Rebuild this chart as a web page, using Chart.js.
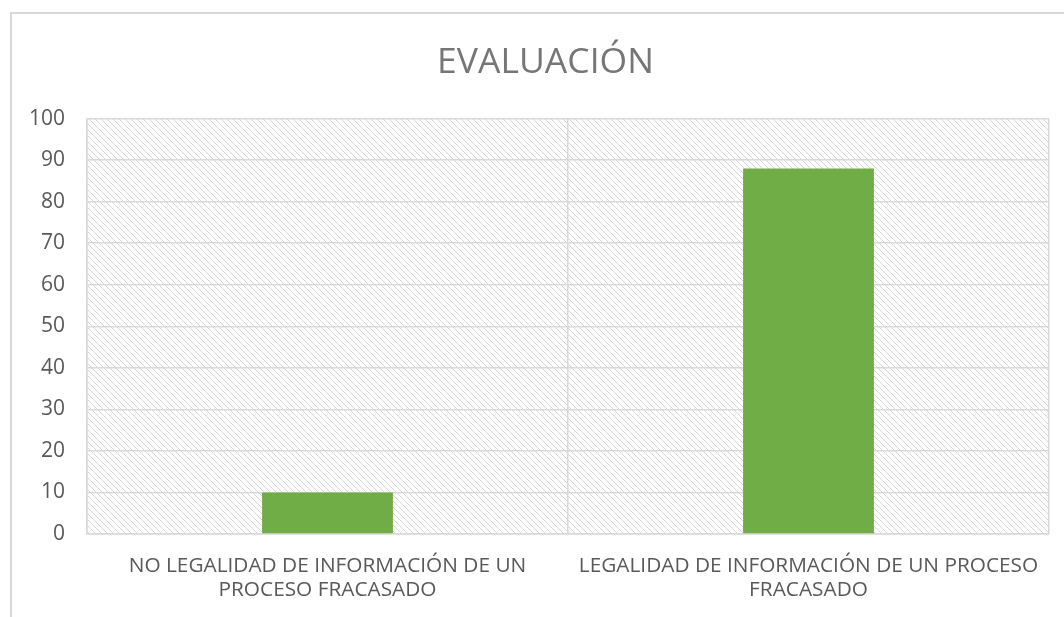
<!DOCTYPE html>
<html>
<head>
<meta charset="utf-8">
<script src="https://cdn.jsdelivr.net/npm/chart.js@4/dist/chart.umd.min.js"></script>
<style>
  html, body { margin: 0; padding: 0; background: #fff; overflow: hidden; }
  #frame {
    position: absolute; left: 10px; top: 12px;
    width: 1200px; height: 800px;
    border: 2px solid #d9d9d9; box-sizing: border-box;
  }
  #wrap { position: absolute; left: 0; top: 0; width: 1064px; height: 617px; }
</style>
</head>
<body>
<div id="frame"></div>
<div id="wrap"><canvas id="evalChart" width="1064" height="617"></canvas></div>
<script>
// chart data
const categories = [
    ['NO LEGALIDAD DE INFORMACIÓN DE UN', 'PROCESO FRACASADO'],
    ['LEGALIDAD DE INFORMACIÓN DE UN PROCESO', 'FRACASADO']
];
const values = [10, 88];
const yTicks = [0, 10, 20, 30, 40, 50, 60, 70, 80, 90, 100];

// diagonal hatch used behind the plot area
function makeHatch() {
    const c = document.createElement('canvas');
    c.width = 6; c.height = 6;
    const g = c.getContext('2d');
    g.strokeStyle = '#d6d6d6';
    g.lineWidth = 1;
    g.beginPath();
    g.moveTo(-1, -1); g.lineTo(7, 7);
    g.moveTo(-1, 5); g.lineTo(1, 7);
    g.moveTo(5, -1); g.lineTo(7, 1);
    g.stroke();
    return g.createPattern(c, 'repeat');
}

const hatchPlugin = {
    id: 'hatch',
    afterLayout(chart) {
        // let the y labels use the space left of the axis box (title stays centred on the frame)
        chart.scales.y.left = 12;
    },
    beforeDraw(chart) {
        const { ctx, chartArea } = chart;
        ctx.save();
        ctx.fillStyle = makeHatch();
        ctx.fillRect(chartArea.left, chartArea.top,
            chartArea.right - chartArea.left, chartArea.bottom - chartArea.top);
        ctx.restore();
    }
};

const ctx = document.getElementById('evalChart').getContext('2d');
new Chart(ctx, {
    type: 'bar',
    data: {
        labels: categories,
        datasets: [{
            data: values,
            backgroundColor: '#70ad47',
            barPercentage: 0.272,
            categoryPercentage: 1
        }]
    },
    options: {
        responsive: false,
        animation: false,
        layout: { padding: { left: 42, right: 15, top: 14, bottom: 0 } },
        plugins: {
            legend: { display: false },
            tooltip: { enabled: false },
            title: {
                display: true,
                text: 'EVALUACIÓN',
                color: '#767676',
                font: { family: 'Open Sans', size: 35.5, weight: 'normal', lineHeight: 1.2 },
                padding: { top: 28, bottom: 34 }
            }
        },
        scales: {
            y: {
                min: 0, max: 100,
                afterBuildTicks(scale) { scale.ticks = yTicks.map(v => ({ value: v })); },
                grid: { color: '#d9d9d9', lineWidth: 1.5, drawTicks: false },
                border: { display: true, color: '#d9d9d9', width: 1.5 },
                ticks: {
                    color: '#595959', padding: 22,
                    font: { family: 'Open Sans', size: 21 }
                },
                afterFit(scale) { scale.width = 45; }
            },
            x: {
                grid: { color: '#d9d9d9', lineWidth: 1.5, drawTicks: false, offset: true },
                border: { display: true, color: '#d9d9d9', width: 1.5 },
                ticks: {
                    color: '#595959', padding: 20, maxRotation: 0,
                    font: { family: 'Open Sans', size: 20.8, lineHeight: 1.15 }
                },
                afterFit(scale) { scale.height = 83; }
            }
        }
    },
    plugins: [hatchPlugin]
});
</script>
</body>
</html>
